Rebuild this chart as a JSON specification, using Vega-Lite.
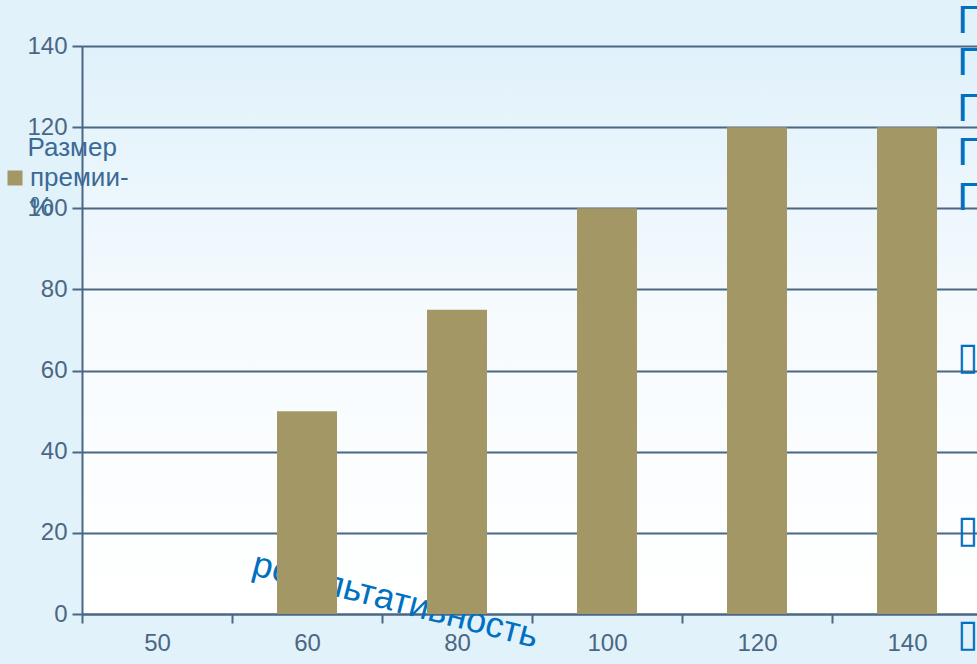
{
  "$schema": "https://vega.github.io/schema/vega-lite/v6.json",
  "width": 900,
  "height": 568,
  "autosize": {"type": "none"},
  "padding": {"left": 82, "top": 46, "right": 0, "bottom": 50},
  "background": "#E2F2FA",
  "config": {
    "font": "Liberation Sans",
    "style": {"guide-label": {"lineHeight": 29}},
    "view": {"stroke": null, "fill": {"gradient": "linear", "x1": 0, "y1": 0, "x2": 0, "y2": 1, "stops": [{"offset": 0, "color": "#E0F1FB"}, {"offset": 0.5, "color": "#F7FBFE"}, {"offset": 1, "color": "#FFFFFF"}]}}
  },
  "datasets": {
    "bars": [
      {"x": "50", "y": 0, "series": "Размер премии-%"},
      {"x": "60", "y": 50, "series": "Размер премии-%"},
      {"x": "80", "y": 75, "series": "Размер премии-%"},
      {"x": "100", "y": 100, "series": "Размер премии-%"},
      {"x": "120", "y": 120, "series": "Размер премии-%"},
      {"x": "140", "y": 120, "series": "Размер премии-%"}
    ],
    "glyphs": [
      {"x": "140", "y": 145.9, "g": "Г"},
      {"x": "140", "y": 135.6, "g": "Г"},
      {"x": "140", "y": 124.2, "g": "Г"},
      {"x": "140", "y": 113.4, "g": "Г"},
      {"x": "140", "y": 102.3, "g": "Г"},
      {"x": "140", "y": 63.1, "g": "▯"},
      {"x": "140", "y": 20.5, "g": "▯"},
      {"x": "140", "y": -5.2, "g": "▯"}
    ]
  },
  "layer": [
    {
      "data": {"name": "bars"},
      "mark": {"type": "bar", "width": {"band": 0.4}, "stroke": null},
      "encoding": {
        "x": {
          "field": "x", "type": "ordinal", "sort": ["50", "60", "80", "100", "120", "140"],
          "scale": {"domain": ["50", "60", "80", "100", "120", "140"], "paddingInner": 0, "paddingOuter": 0},
          "axis": {
            "labelAngle": 0, "labelFontSize": 24, "labelColor": "#4A6784", "labelPadding": 8,
            "domainColor": "#4A6784", "domainWidth": 2, "tickColor": "#4A6784", "tickWidth": 2, "tickSize": 9, "tickBand": "extent",
            "title": "результативность", "titleColor": "#0070C0", "titleFontSize": 36, "titleFontWeight": "normal",
            "titleAngle": 14.5, "titleX": 313, "titleY": -14, "titleBaseline": "middle", "titleAlign": "center", "zindex": 0
          }
        },
        "y": {
          "field": "y", "type": "quantitative",
          "scale": {"domain": [0, 140], "nice": false},
          "axis": {
            "values": [0, 20, 40, 60, 80, 100, 120, 140], "title": null, "grid": true,
            "gridColor": "#4A6784", "gridWidth": 2, "domainColor": "#4A6784", "domainWidth": 2,
            "tickColor": "#4A6784", "tickWidth": 2, "tickSize": 10, "labelFontSize": 24, "labelColor": "#4A6784", "labelPadding": 5, "zindex": 0
          }
        },
        "color": {
          "field": "series", "type": "nominal",
          "scale": {"range": ["#A39766"]},
          "legend": {
            "orient": "none", "legendX": -80, "legendY": 89, "padding": 0,
            "title": "\u2800\u2005Размер", "titleFontSize": 26, "titleFontWeight": "normal", "titleColor": "#3A6A96", "titlePadding": 4, "titleLimit": 300,
            "symbolType": "square", "symbolSize": 225, "symbolStrokeWidth": 0, "symbolOpacity": 1,
            "labelExpr": "['премии-', '%']", "labelFontSize": 26, "labelColor": "#3A6A96", "labelOffset": 2, "labelLimit": 300
          }
        }
      }
    },
    {
      "data": {"name": "glyphs"},
      "mark": {"type": "text", "align": "left", "baseline": "middle", "dx": 50, "fontSize": 38, "color": "#0070C0", "font": "DejaVu Sans"},
      "encoding": {
        "x": {"field": "x", "type": "ordinal", "sort": ["50", "60", "80", "100", "120", "140"]},
        "y": {"field": "y", "type": "quantitative"},
        "text": {"field": "g", "type": "nominal"}
      }
    }
  ]
}
